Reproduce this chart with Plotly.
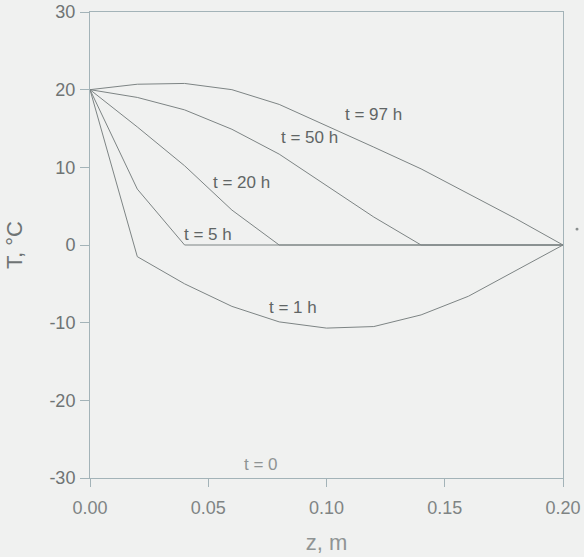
import plotly.graph_objects as go

z = [0.00, 0.02, 0.04, 0.06, 0.08, 0.10, 0.12, 0.14, 0.16, 0.18, 0.20]
T_1h = [20, -1.5, -5.0, -7.9, -9.9, -10.7, -10.5, -9.0, -6.6, -3.3, 0]
T_5h = [20, 7.2, 0, 0, 0, 0, 0, 0, 0, 0, 0]
T_20h = [20, 15.2, 10.2, 4.5, 0, 0, 0, 0, 0, 0, 0]
T_50h = [20, 19.0, 17.4, 14.9, 11.7, 7.6, 3.6, 0, 0, 0, 0]
T_97h = [20, 20.7, 20.8, 20.0, 18.1, 15.4, 12.6, 9.8, 6.6, 3.4, 0]

x_ticks = [0, 0.05, 0.10, 0.15, 0.20]
x_ticktext = ["0.00", "0.05", "0.10", "0.15", "0.20"]
y_ticks = [-30, -20, -10, 0, 10, 20, 30]
y_ticktext = ["-30", "-20", "-10", "0", "10", "20", "30"]

labels = ["t = 97 h", "t = 50 h", "t = 20 h", "t = 5 h", "t = 1 h", "t = 0"]
label_x = [0.120, 0.093, 0.064, 0.050, 0.086, 0.0725]
label_y = [16.8, 13.8, 8.0, 1.4, -8.1, -28.2]

FONT = "Liberation Sans, Arial"
BG = "#f0f1f0"
line_color = "#7d8484"
fig = go.Figure()
for ys in [T_1h, T_5h, T_20h, T_50h, T_97h]:
    fig.add_trace(go.Scatter(x=z, y=ys, mode="lines",
                             line=dict(color=line_color, width=1),
                             showlegend=False, hoverinfo="skip"))

for t, lx, ly in zip(labels, label_x, label_y):
    fig.add_annotation(x=lx, y=ly, text=t, showarrow=False,
                       font=dict(family=FONT, size=17,
                                 color="#8f9494" if t == "t = 0" else "#606565"))

# small stray dot right of the plot
fig.add_shape(type="circle", xref="paper", yref="paper",
              x0=1.0265, x1=1.0328, y0=0.531, y1=0.537,
              fillcolor="#8a8f8f", line=dict(width=0))

axis_color = "#a3b3b8"
fig.update_xaxes(range=[0, 0.20], tickvals=x_ticks, ticktext=x_ticktext,
                 showgrid=False, zeroline=False, showline=True, linecolor=axis_color,
                 linewidth=1, mirror=True, ticks="outside", ticklen=8,
                 tickcolor=axis_color, automargin=False, ticklabelstandoff=5,
                 tickfont=dict(family=FONT, size=18, color="#7f8484"),
                 title=dict(text="z, m", font=dict(family=FONT, size=22, color="#8f9494"),
                            standoff=18))
fig.update_yaxes(range=[-30, 30], tickvals=y_ticks, ticktext=y_ticktext,
                 showgrid=False, zeroline=False, showline=True, linecolor=axis_color,
                 linewidth=1, mirror=True, ticks="outside", ticklen=9,
                 tickcolor=axis_color, automargin=False, ticklabelstandoff=1,
                 tickfont=dict(family=FONT, size=18, color="#6f7474"),
                 title=dict(text="T, °C", font=dict(family=FONT, size=22, color="#6f7474"),
                            standoff=20))

fig.update_layout(width=584, height=557,
                  margin=dict(l=90, r=21, t=12, b=79),
                  paper_bgcolor=BG, plot_bgcolor=BG)

fig.write_html("out.html", config={"displayModeBar": False},
               post_script="document.body.style.margin='0';"
                           "document.body.style.background='%s';" % BG)
